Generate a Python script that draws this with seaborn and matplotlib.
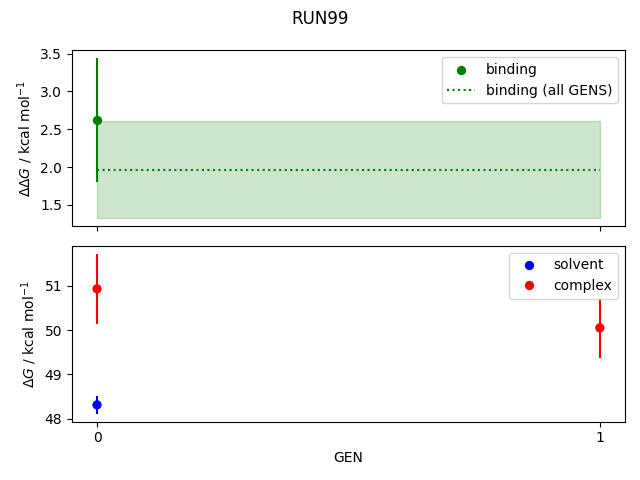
import numpy as np
import pandas as pd
import matplotlib
matplotlib.use("Agg")
import matplotlib.pyplot as plt
import seaborn as sns

gens = [0, 1]
binding = [2.62]
binding_err = [0.82]
binding_all = 1.965
binding_all_err = 0.64
solvent = [48.31, np.nan]
solvent_err = [0.20, np.nan]
complex_ = [50.93, 50.05]
complex_err = [0.79, 0.68]

fig, (ax1, ax2) = plt.subplots(2, 1, sharex=True, figsize=(6.4, 4.8), dpi=100)
fig.suptitle("RUN99")

# top panel
sns.scatterplot(x=gens[:1], y=binding, color="green", label="binding", ax=ax1,
                s=45, linewidth=0, zorder=3)
ax1.errorbar(gens[:1], binding, yerr=binding_err, fmt="none", ecolor="green", lw=1.5)
ax1.plot([gens[0], gens[-1]], [binding_all, binding_all], ":", color="green",
         label="binding (all GENS)")
ax1.fill_between([gens[0], gens[-1]], binding_all - binding_all_err,
                 binding_all + binding_all_err, color="green", alpha=0.2)
ax1.set_ylabel(r"$\Delta\Delta G$ / kcal mol$^{-1}$")
ax1.legend(loc="upper right")

# bottom panel
df = pd.DataFrame({"GEN": gens * 2,
                   "dG": solvent + complex_,
                   "err": solvent_err + complex_err,
                   "phase": ["solvent"] * 2 + ["complex"] * 2})
sns.scatterplot(data=df.dropna(), x="GEN", y="dG", hue="phase",
                palette={"solvent": "blue", "complex": "red"},
                s=45, linewidth=0, zorder=3, ax=ax2)
for phase, c in [("solvent", "blue"), ("complex", "red")]:
    d = df[df.phase == phase].dropna()
    ax2.errorbar(d.GEN, d.dG, yerr=d.err, fmt="none", ecolor=c, lw=1.5)
ax2.legend(loc="upper right")
ax2.set_ylabel(r"$\Delta G$ / kcal mol$^{-1}$")
ax2.set_xlabel("GEN")
ax2.set_xticks(gens)

fig.tight_layout()
fig.savefig("out.png", dpi=100)
